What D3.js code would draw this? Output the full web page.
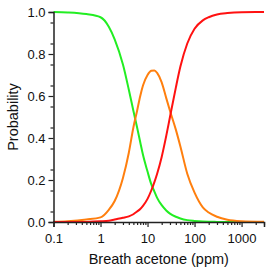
<!DOCTYPE html>
<html>
<head>
<meta charset="utf-8">
<script src="https://cdn.jsdelivr.net/npm/d3@7"></script>
<style>
  body { margin: 0; background: #fff; }
  svg text { font-family: "Liberation Sans", Arial, sans-serif; fill: #111; }
</style>
</head>
<body>
<svg id="chart" width="275" height="273"></svg>
<script>
// breath acetone grid (ppm)
const ppm = [0.1, 0.2, 0.5, 1, 1.5, 2, 3, 4, 5, 6, 7, 8, 10, 12, 14, 16, 20, 25, 30, 40, 50, 70, 100, 150, 200, 300, 500, 1000, 3000];

// probabilities
const greenP = [1.0, 0.998, 0.99, 0.975, 0.93, 0.87, 0.75, 0.63, 0.53, 0.45, 0.38, 0.32, 0.24, 0.18, 0.145, 0.115, 0.08, 0.055, 0.04, 0.025, 0.017, 0.009, 0.005, 0.002, 0.001, 0.0005, 0, 0, 0];
const orangeP = [0.001, 0.004, 0.012, 0.022, 0.058, 0.10, 0.21, 0.33, 0.45, 0.53, 0.60, 0.65, 0.70, 0.72, 0.722, 0.71, 0.665, 0.59, 0.53, 0.44, 0.36, 0.23, 0.14, 0.07, 0.045, 0.025, 0.011, 0.004, 0.001];
const redP = [0, 0.0001, 0.0005, 0.003, 0.006, 0.012, 0.02, 0.027, 0.037, 0.05, 0.062, 0.077, 0.11, 0.15, 0.19, 0.23, 0.31, 0.41, 0.50, 0.64, 0.74, 0.85, 0.92, 0.96, 0.975, 0.988, 0.995, 0.999, 1.0];

const xMajor = [0.1, 1, 10, 100, 1000];
const yMajor = [0, 0.2, 0.4, 0.6, 0.8, 1.0];

const series = [
  { name: "green", color: "#22ee22", values: greenP },
  { name: "orange", color: "#ff7f0e", values: orangeP },
  { name: "red", color: "#ff1111", values: redP }
];

const width = 275;
const height = 273;
const margin = ({ top: 12, right: 11, bottom: 51, left: 53.5 });

const svg = d3.select("#chart");

let x = d3.scaleLog()
  .domain([0.1, 3000])
  .range([margin.left, width - margin.right]);

let y = d3.scaleLinear()
  .domain([0, 1])
  .range([height - margin.bottom, margin.top]);

// minor ticks
let xMinor = [];
for (let d = 0.1; d < 3000; d *= 10) {
  for (let k = 2; k <= 9; k++) {
    if (d * k <= 3000) xMinor.push(d * k);
  }
}
let yMinor = d3.range(0.05, 1, 0.1);

// curves
let line = d3.line()
  .x((d, i) => x(ppm[i]))
  .y(d => y(d))
  .curve(d3.curveMonotoneX);

svg.append("g")
  .selectAll("path")
  .data(series)
  .join("path")
  .attr("fill", "none")
  .attr("stroke", d => d.color)
  .attr("stroke-width", 2)
  .attr("d", d => line(d.values));

// axes
let xAxis = g => g
  .attr("transform", `translate(0,${height - margin.bottom})`)
  .call(d3.axisBottom(x).tickValues(xMajor).tickFormat(d3.format("~g")).tickSize(5).tickPadding(7))
  .call(g => g.append("g")
    .call(d3.axisBottom(x).tickValues(xMinor).tickSize(3).tickFormat(""))
    .call(g => g.select(".domain").remove()));

let yAxis = g => g
  .attr("transform", `translate(${margin.left},0)`)
  .call(d3.axisLeft(y).tickValues(yMajor).tickFormat(d3.format(".1f")).tickSize(5).tickPadding(3))
  .call(g => g.append("g")
    .call(d3.axisLeft(y).tickValues(yMinor).tickSize(3).tickFormat(""))
    .call(g => g.select(".domain").remove()));

svg.append("g").call(xAxis);
svg.append("g").call(yAxis);

svg.selectAll(".domain").attr("stroke", "#222").attr("stroke-width", 1.5);
svg.selectAll(".tick line").attr("stroke", "#222").attr("stroke-width", 1.2);
svg.selectAll(".tick text").attr("font-size", 13).attr("font-family", "Liberation Sans, Arial, sans-serif").attr("fill", "#111");

// axis titles
svg.append("text")
  .attr("x", (margin.left + width - margin.right) / 2)
  .attr("y", 264)
  .attr("text-anchor", "middle")
  .attr("font-size", 14.5)
  .text("Breath acetone (ppm)");

svg.append("text")
  .attr("transform", `translate(18,${(margin.top + height - margin.bottom) / 2}) rotate(-90)`)
  .attr("text-anchor", "middle")
  .attr("font-size", 14.5)
  .text("Probability");
</script>
</body>
</html>
